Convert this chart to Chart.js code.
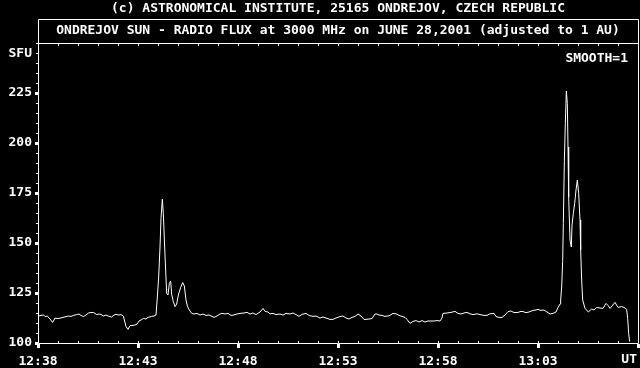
<!DOCTYPE html>
<html>
<head>
<meta charset="utf-8">
<script src="https://cdn.jsdelivr.net/npm/chart.js@4/dist/chart.umd.min.js"></script>
<style>
html,body{margin:0;padding:0;background:#000;}
canvas{display:block;}
</style>
</head>
<body>
<canvas id="c" width="640" height="368" style="width:640px;height:368px"></canvas>
<script>
// seconds after 12:38:00 UT
const timesSec = [2,9,16,22,28,36,44,51,57,66,75,84,91,99,106,116,123,129,136,144,151,159,166,176,183,189,196,204,210,221,228,234,243,249,256,264,270,276,285,291,297,303,309,316,324,330,341,348,354,358,362,366,369,373,376,380,383,386,390,394,398,401,406,411,416,421,428,434,439,444,448,454,461,468,477,486,495,504,513,522,528,537,546,552,561,570,579,588,597,606,618,627,636,645,654,666,675,681,690,696,705,714,726,735,744,756,765,774,783,792,804,813,825,834,846,855,864,876,885,894,906,915,924,933,942,951,960,969,978,984,993,1002,1011,1017,1023,1032,1041,1053,1065,1074,1083,1092,1101,1107,1116,1125,1134,1143,1152,1161,1170,1179,1188,1197,1206,1212,1215,1227,1239,1251,1260,1269,1278,1287,1296,1305,1317,1326,1338,1347,1356,1368,1374,1383,1392,1401,1410,1419,1428,1440,1449,1455,1464,1473,1485,1494,1500,1509,1518,1527,1536,1545,1554,1560,1566,1568,1571,1574,1576,1579,1582,1585,1588,1590,1592,1596,1600,1602,1606,1610,1614,1618,1622,1626,1628,1631,1634,1641,1651,1661,1668,1676,1686,1695,1704,1710,1716,1722,1731,1740,1751,1758,1766,1769,1772,1775];
// solar radio flux, SFU
const fluxSfu = [113.5,113.8,114,113.2,113.5,112,110.3,112.5,112.2,112.4,112.8,113.2,113.5,113.3,113.8,114.2,114.5,113.8,113.2,114,115,115.2,115.3,114.2,114.5,114.3,113.5,114,113.5,113,114,114.3,114,114.2,113.5,108.2,106.8,108.7,108.8,109,109.5,111,111.5,112.3,112,112.8,113.3,113.5,114,123,133,148,162.3,172,164.8,148,136.5,124.8,124,129.8,131,124.3,120.7,118.2,119.5,124,127.8,130.2,128.5,121.5,118.5,116.5,114.8,114.5,114.8,114,114.5,113.8,114,113.3,112.8,113.5,114.5,114.8,114.5,114.8,113.8,114,114.5,114.8,115,115.3,114.5,115,114.2,115.5,117.3,115.8,115.5,114.6,114.8,114.2,114.5,114,114.8,114.5,115,114.2,113.3,114.3,114.8,113.8,113.3,113.5,112.5,113,112.5,111.8,111.8,112.5,113.2,113.5,112.5,112,112.8,113.3,114.5,113.5,111.8,111.8,112,112.2,114.5,114.5,114,113.8,113.3,113.6,114.8,114.6,113.8,113.3,112.8,111.8,109.8,110.8,111.2,110.5,111.2,110.5,111,111,111,111.2,111,112.5,114.8,115,115.3,115.8,114.8,114.5,115,115.3,114.6,114.2,114.6,114.2,113.8,113.8,114.6,114.8,113.2,112.8,112.8,114,115.7,116,115.2,115.3,115.8,115.7,115.2,115.5,116.3,116.5,116.8,116.3,116.5,115.5,114.5,114.8,115.5,117.7,119.5,121.5,128,140.7,159.8,190.7,209.8,226,219.8,198,173,151.5,148,159,164.8,169.8,176.5,181.5,174.8,161.5,146.5,131.5,121.5,117.3,115.5,117,116.5,117.8,117.5,117.3,119.8,118.8,117.3,118.5,120.3,117.8,118.2,117.8,116.8,112.3,104.8,100.7];

const xTickSec = [0,300,600,900,1200,1500];
const xTickLabels = ['12:38','12:43','12:48','12:53','12:58','13:03'];
const yTickValues = [100,125,150,175,200,225];
const titleText = '(c) ASTRONOMICAL INSTITUTE, 25165 ONDREJOV, CZECH REPUBLIC';
const subtitleText = 'ONDREJOV SUN - RADIO FLUX at 3000 MHz on JUNE 28,2001 (adjusted to 1 AU)';
const yUnit = 'SFU';
const xUnit = 'UT';
const smoothText = 'SMOOTH=1';

const FONT = 'bold 13px "DejaVu Sans Mono", "Liberation Mono", monospace';
const fontObj = {family: '"DejaVu Sans Mono", "Liberation Mono", monospace', size: 13, weight: 'bold'};

const points = timesSec.map((t, i) => ({x: t, y: fluxSfu[i]}));

const decor = {
  id: 'decor',
  afterDraw(chart) {
    const ctx = chart.ctx;
    const a = chart.chartArea;
    const xs = chart.scales.x, ys = chart.scales.y;
    ctx.save();
    ctx.fillStyle = '#fff';
    ctx.strokeStyle = '#fff';
    ctx.lineWidth = 1;
    // frame
    const L = Math.round(a.left) + 0.5, R = Math.round(a.right) + 0.5;
    const T = Math.round(a.top) + 0.5, B = Math.round(a.bottom) + 0.5;
    ctx.beginPath();
    ctx.moveTo(L, 19.5); ctx.lineTo(R, 19.5);
    ctx.moveTo(L, 19.5); ctx.lineTo(L, B);
    ctx.moveTo(R, 19.5); ctx.lineTo(R, B);
    ctx.moveTo(L, T); ctx.lineTo(R, T);
    ctx.moveTo(L, B); ctx.lineTo(R, B);
    ctx.stroke();
    // x ticks
    for (let s = 0; s <= 1800; s += 60) {
      const px = Math.round(xs.getPixelForValue(s));
      ctx.fillRect(px, Math.round(a.bottom) - 2, 1, 2);
      ctx.fillRect(px, Math.round(a.top) + 1, 1, 2);
    }
    for (let s = 0; s <= 1800; s += 300) {
      const px = Math.round(xs.getPixelForValue(s));
      ctx.fillRect(px - 1, Math.round(a.bottom) + 1, 3, 4);
    }
    // y ticks
    for (let v = 100; v <= 250; v += 5) {
      const py = Math.round(ys.getPixelForValue(v));
      ctx.fillRect(Math.round(a.left) - 2, py, 2, 1);
    }
    for (let v = 100; v <= 225; v += 25) {
      const py = Math.round(ys.getPixelForValue(v));
      ctx.fillRect(Math.round(a.left) - 3, py - 1, 3, 3);
    }
    // texts
    ctx.font = FONT;
    ctx.textBaseline = 'middle';
    ctx.textAlign = 'center';
    ctx.fillText(titleText, (a.left + a.right) / 2, 9);
    ctx.fillText(subtitleText, (a.left + a.right) / 2, 31);
    ctx.textAlign = 'right';
    ctx.fillText(yUnit, 32, 54);
    ctx.fillText(smoothText, 628, 59);
    ctx.fillText(xUnit, 637, 360);
    ctx.restore();
  }
};

new Chart(document.getElementById('c'), {
  type: 'line',
  data: {
    datasets: [{
      data: points,
      borderColor: '#fff',
      borderWidth: 1,
      pointRadius: 0,
      tension: 0,
      fill: false
    }]
  },
  options: {
    responsive: false,
    devicePixelRatio: 1,
    animation: false,
    events: [],
    layout: {padding: {top: 43, right: 2, left: 0, bottom: 0}},
    plugins: {legend: {display: false}, tooltip: {enabled: false}, title: {display: false}},
    scales: {
      x: {
        type: 'linear', min: 0, max: 1800,
        afterFit(s) { s.height = 25; },
        afterBuildTicks(s) { s.ticks = xTickSec.map(v => ({value: v})); },
        grid: {display: false, drawTicks: false},
        border: {display: false},
        ticks: {
          color: '#fff', font: fontObj, padding: 11, autoSkip: false, maxRotation: 0,
          callback: (v) => { const i = xTickSec.indexOf(v); return i >= 0 ? xTickLabels[i] : ''; }
        }
      },
      y: {
        type: 'linear', min: 100, max: 250,
        afterFit(s) { s.width = 38; },
        afterBuildTicks(s) { s.ticks = yTickValues.map(v => ({value: v})); },
        grid: {display: false, drawTicks: false},
        border: {display: false},
        ticks: {color: '#fff', font: fontObj, padding: 6, autoSkip: false, callback: (v) => String(v)}
      }
    }
  },
  plugins: [decor]
});
</script>
</body>
</html>
